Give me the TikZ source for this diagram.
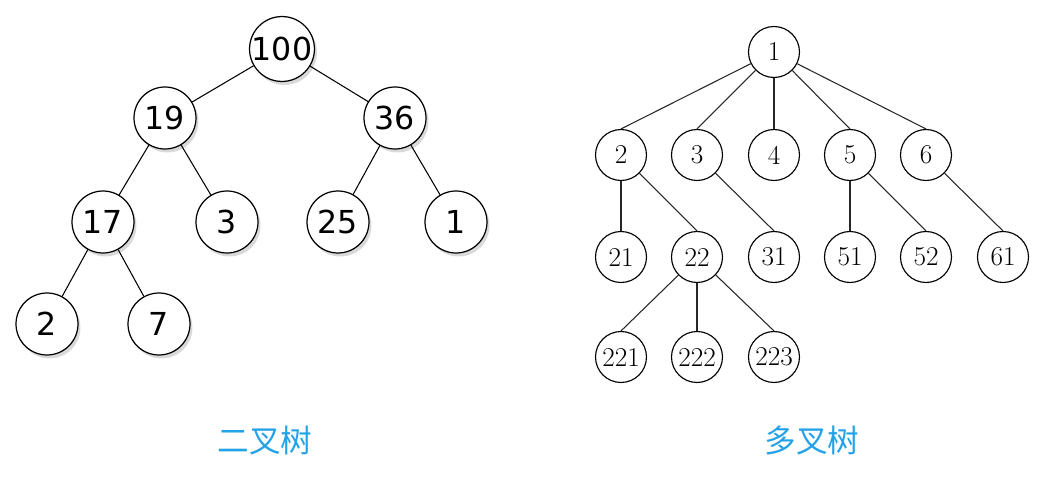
\documentclass[tikz,border=0pt]{standalone}
\usepackage{fontspec}
\usepackage{tikz}
\usetikzlibrary{shadows}
\newfontfamily\heapfont{DejaVu Sans}
\newfontfamily\cjkfont{Noto Sans CJK SC}
\definecolor{titleblue}{RGB}{36,162,232}
\tikzset{
  bnode/.style={circle, draw, line width=0.7pt, fill=white, minimum size=1.24cm, inner sep=0pt,
    font=\heapfont\fontsize{18}{18}\selectfont,
    drop shadow={shadow xshift=0.05cm, shadow yshift=-0.07cm, opacity=0.3}},
  mnode/.style={circle, draw, line width=0.65pt, fill=white, minimum size=1.02cm, inner sep=0pt,
    font=\fontsize{15.5}{15.5}\selectfont},
  bedge/.style={line width=0.6pt},
  medge/.style={line width=0.6pt, black!85},
  title/.style={text=titleblue, font=\cjkfont\fontsize{18}{18}\selectfont}
}

\begin{document}
\begin{tikzpicture}[x=0.02cm, y=-0.02cm]
    \useasboundingbox (0, 0) rectangle (1049, 483);

    \node[bnode] (b100) at (282, 49) {100};
    \node[bnode] (b19) at (165, 118) {19};
    \node[bnode] (b36) at (395, 118) {36};
    \node[bnode] (b17) at (103, 222) {17};
    \node[bnode] (b3) at (227, 222) {3};
    \node[bnode] (b25) at (338, 222) {25};
    \node[bnode] (b1) at (456, 222) {1};
    \node[bnode] (b2) at (47, 324) {2};
    \node[bnode] (b7) at (159, 324) {7};

    \draw[bedge] (b100) -- (b19);
    \draw[bedge] (b100) -- (b36);
    \draw[bedge] (b19) -- (b17);
    \draw[bedge] (b19) -- (b3);
    \draw[bedge] (b36) -- (b25);
    \draw[bedge] (b36) -- (b1);
    \draw[bedge] (b17) -- (b2);
    \draw[bedge] (b17) -- (b7);

    \node[mnode] (m1) at (774, 52) {1};
    \node[mnode] (m2) at (621, 155) {2};
    \node[mnode] (m3) at (697, 155) {3};
    \node[mnode] (m4) at (774, 155) {4};
    \node[mnode] (m5) at (850, 155) {5};
    \node[mnode] (m6) at (926, 155) {6};
    \node[mnode] (m21) at (621, 257) {21};
    \node[mnode] (m22) at (697, 257) {22};
    \node[mnode] (m31) at (774, 257) {31};
    \node[mnode] (m51) at (850, 257) {51};
    \node[mnode] (m52) at (926, 257) {52};
    \node[mnode] (m61) at (1003, 257) {61};
    \node[mnode] (m221) at (621, 357) {221};
    \node[mnode] (m222) at (697, 357) {222};
    \node[mnode] (m223) at (774, 357) {223};

    \draw[medge] (m1) -- (m2.north);
    \draw[medge] (m1) -- (m3.north);
    \draw[medge] (m1) -- (m4.north);
    \draw[medge] (m1) -- (m5.north);
    \draw[medge] (m1) -- (m6.north);
    \draw[medge] (m2) -- (m21.north);
    \draw[medge] (m2) -- (m22.north);
    \draw[medge] (m3) -- (m31.north);
    \draw[medge] (m5) -- (m51.north);
    \draw[medge] (m5) -- (m52.north);
    \draw[medge] (m6) -- (m61.north);
    \draw[medge] (m22) -- (m221.north);
    \draw[medge] (m22) -- (m222.north);
    \draw[medge] (m22) -- (m223.north);

    \node[title] (tbin) at (265, 440) {二叉树};
    \node[title] (tmul) at (812, 440) {多叉树};
\end{tikzpicture}
\end{document}
